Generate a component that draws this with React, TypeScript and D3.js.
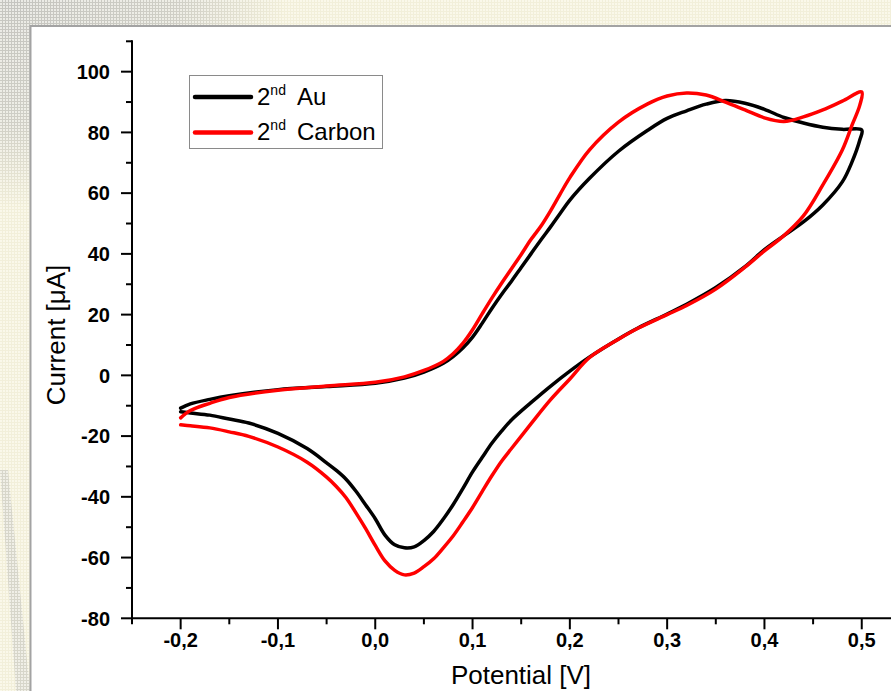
import React, { useEffect, useRef } from "react";
import * as d3 from "d3";

// Cyclic voltammograms: forward scan (-0.2 → 0.5 V) then reverse scan (0.5 → -0.2 V)
const forwardPotential = [
  -0.2, -0.19, -0.17, -0.15, -0.1, -0.05, 0, 0.03, 0.05, 0.07, 0.08, 0.09, 0.1, 0.11, 0.12,
  0.13, 0.14, 0.15, 0.16, 0.17, 0.18, 0.19, 0.2, 0.22, 0.25, 0.28, 0.3, 0.32, 0.34, 0.36,
  0.38, 0.4, 0.42, 0.44, 0.46, 0.48, 0.5,
];
const reversePotential = [
  0.498, 0.49, 0.48, 0.46, 0.44, 0.42, 0.4, 0.38, 0.35, 0.32, 0.3, 0.27, 0.25, 0.22, 0.2,
  0.18, 0.16, 0.14, 0.13, 0.12, 0.11, 0.1, 0.09, 0.08, 0.07, 0.06, 0.05, 0.04, 0.03, 0.02,
  0.01, 0, -0.01, -0.02, -0.03, -0.04, -0.05, -0.07, -0.1, -0.13, -0.15, -0.17, -0.19, -0.2,
];

const auForward = [
  -10.8, -9.4, -7.9, -6.7, -4.7, -3.7, -2.6, -0.9, 1.1, 4.0, 6.2, 9.0, 12.6, 17.2, 22.1,
  26.7, 31.0, 35.5, 40.0, 44.5, 48.8, 53.3, 57.7, 64.8, 73.8, 80.7, 84.6, 87.1, 89.3, 90.5,
  89.6, 87.6, 84.9, 83.1, 81.7, 81.0, 80.8,
];
const auReverse = [
  77.5, 70.3, 63.7, 56.1, 50.5, 46.0, 41.4, 35.8, 28.9, 23.4, 20.2, 15.6, 12.0, 6.0, 1.4,
  -3.6, -9.0, -14.7, -18.3, -22.3, -27.0, -31.8, -37.3, -42.6, -47.3, -51.4, -54.4, -56.5, -56.8, -55.8,
  -52.6, -47.2, -42.6, -38.1, -34.2, -31.3, -28.8, -24.1, -19.1, -15.7, -14.4, -13.1, -12.4, -12.0,
];

const carbonForward = [
  -14.0, -11.6, -9.2, -7.3, -4.9, -3.5, -2.3, -0.5, 1.6, 4.6, 7.1, 10.5, 15.0, 20.3, 25.5,
  30.4, 35.1, 39.8, 44.7, 49.0, 54.1, 59.7, 65.1, 74.2, 83.4, 89.4, 92.0, 93.0, 92.3, 90.0,
  87.4, 84.8, 83.6, 85.1, 87.4, 90.3, 93.3,
];
const carbonReverse = [
  89.0, 82.4, 74.2, 62.7, 52.5, 46.0, 41.0, 35.6, 28.4, 23.0, 20.0, 15.5, 11.9, 5.8, -1.2,
  -8.1, -16.0, -24.1, -28.2, -33.0, -38.2, -43.5, -48.3, -52.9, -56.8, -60.4, -63.0, -65.1, -65.7, -64.2,
  -61.1, -56.0, -50.4, -45.2, -40.3, -36.6, -33.5, -28.6, -23.6, -20.1, -18.6, -17.3, -16.6, -16.3,
];

const seriesNames = ["Au", "Carbon"];
const seriesColors = ["#000000", "#ff0000"];

const xTicks = [-0.2, -0.1, 0, 0.1, 0.2, 0.3, 0.4, 0.5];
const xMinorTicks = [-0.25, -0.15, -0.05, 0.05, 0.15, 0.25, 0.35, 0.45];
const yTicks = [-80, -60, -40, -20, 0, 20, 40, 60, 80, 100];
const yMinorTicks = [-70, -50, -30, -10, 10, 30, 50, 70, 90, 110];

const W = 891;
const H = 691;

export default function App() {
  const ref = useRef<SVGSVGElement | null>(null);

  useEffect(() => {
    const svg = d3.select(ref.current);
    svg.selectAll("*").remove();

    const x = d3.scaleLinear().domain([-0.25, 0.55]).range([132, 910.4]);
    const y = d3.scaleLinear().domain([-80, 110]).range([618.3, 41.3]);

    const locale = d3.formatLocale({ decimal: ",", thousands: ".", grouping: [3], currency: ["", ""], minus: "-" });
    const fmtX = locale.format(".1f");

    const defs = svg.append("defs");

    // textured slide backdrop
    const pat = defs
      .append("pattern")
      .attr("id", "dots")
      .attr("width", 3)
      .attr("height", 3)
      .attr("patternUnits", "userSpaceOnUse");
    pat.append("rect").attr("width", 3).attr("height", 3).attr("fill", "#f2efda");
    pat.append("rect").attr("width", 2).attr("height", 2).attr("fill", "#faf8ea");

    const grayPat = defs
      .append("pattern")
      .attr("id", "grayDots")
      .attr("width", 3)
      .attr("height", 3)
      .attr("patternUnits", "userSpaceOnUse");
    grayPat.append("rect").attr("width", 3).attr("height", 3).attr("fill", "#c4c4bf");
    grayPat.append("rect").attr("width", 2).attr("height", 2).attr("fill", "#eaeae5");

    const grad = defs
      .append("radialGradient")
      .attr("id", "fadeTL")
      .attr("cx", 0.02)
      .attr("cy", 0.0)
      .attr("r", 0.3);
    grad.append("stop").attr("offset", "0%").attr("stop-color", "#fff").attr("stop-opacity", 1);
    grad.append("stop").attr("offset", "60%").attr("stop-color", "#fff").attr("stop-opacity", 0.75);
    grad.append("stop").attr("offset", "100%").attr("stop-color", "#fff").attr("stop-opacity", 0);

    const mask = defs.append("mask").attr("id", "grayMask");
    mask.append("rect").attr("width", W).attr("height", H).attr("fill", "url(#fadeTL)");
    mask
      .append("path")
      .attr("d", "M0,470 L8,470 L30,691 L16,691 Z")
      .attr("fill", "#fff")
      .attr("opacity", 0.6);

    svg.append("rect").attr("width", W).attr("height", H).attr("fill", "url(#dots)");
    svg
      .append("rect")
      .attr("width", W)
      .attr("height", H)
      .attr("fill", "url(#grayDots)")
      .attr("mask", "url(#grayMask)");

    // white chart panel
    svg
      .append("rect")
      .attr("x", 30.5)
      .attr("y", 26)
      .attr("width", W)
      .attr("height", H)
      .attr("fill", "#ffffff")
      .attr("stroke", "#a3a3a3")
      .attr("stroke-width", 2);

    // legend
    const lg = svg.append("g");
    lg.append("rect")
      .attr("x", 189.5)
      .attr("y", 75.5)
      .attr("width", 193)
      .attr("height", 73)
      .attr("fill", "#fff")
      .attr("stroke", "#8a8a8a")
      .attr("stroke-width", 1);
    seriesNames.forEach((name, i) => {
      const ly = 97 + i * 35.5;
      lg.append("line")
        .attr("x1", 195)
        .attr("x2", 251)
        .attr("y1", ly)
        .attr("y2", ly)
        .attr("stroke", seriesColors[i])
        .attr("stroke-width", 4.5)
        .attr("stroke-linecap", "round");
      const t = lg
        .append("text")
        .attr("x", 257)
        .attr("y", ly + 7.5)
        .attr("font-family", "'Liberation Sans', Arial, sans-serif")
        .attr("font-size", 24)
        .attr("fill", "#000");
      t.append("tspan").text("2");
      t.append("tspan").attr("font-size", 14).attr("dy", -10).text("nd");
      t.append("tspan").attr("x", 297).attr("dy", 10).text(name);
    });

    // axes
    const ax = svg.append("g").attr("stroke", "#000").attr("stroke-width", 2);
    ax.append("line").attr("x1", 131.5).attr("x2", W).attr("y1", y(-80)).attr("y2", y(-80));
    ax.append("line").attr("x1", x(-0.25)).attr("x2", x(-0.25)).attr("y1", y(110) - 1).attr("y2", y(-80));

    const tickFont = "'Liberation Sans', Arial, sans-serif";

    yTicks.forEach((v) => {
      ax.append("line").attr("x1", x(-0.25) - 11).attr("x2", x(-0.25)).attr("y1", y(v)).attr("y2", y(v));
      svg
        .append("text")
        .attr("x", 110)
        .attr("y", y(v))
        .attr("dy", "0.36em")
        .attr("text-anchor", "end")
        .attr("font-family", tickFont)
        .attr("font-weight", "bold")
        .attr("font-size", 20)
        .text(String(v));
    });
    yMinorTicks.forEach((v) => {
      ax.append("line").attr("x1", x(-0.25) - 6).attr("x2", x(-0.25)).attr("y1", y(v)).attr("y2", y(v));
    });
    xTicks.forEach((v) => {
      ax.append("line").attr("x1", x(v)).attr("x2", x(v)).attr("y1", y(-80)).attr("y2", y(-80) + 11);
      svg
        .append("text")
        .attr("x", x(v))
        .attr("y", 647)
        .attr("text-anchor", "middle")
        .attr("font-family", tickFont)
        .attr("font-weight", "bold")
        .attr("font-size", 20)
        .text(fmtX(v));
    });
    xMinorTicks.forEach((v) => {
      ax.append("line").attr("x1", x(v)).attr("x2", x(v)).attr("y1", y(-80)).attr("y2", y(-80) + 6);
    });

    svg
      .append("text")
      .attr("transform", `translate(65,335) rotate(-90)`)
      .attr("text-anchor", "middle")
      .attr("font-family", tickFont)
      .attr("font-size", 26)
      .text("Current [μA]");
    svg
      .append("text")
      .attr("x", 521)
      .attr("y", 684)
      .attr("text-anchor", "middle")
      .attr("font-family", tickFont)
      .attr("font-size", 26)
      .text("Potential [V]");

    // voltammogram traces
    const line = d3
      .line<[number, number]>()
      .x((d) => x(d[0]))
      .y((d) => y(d[1]))
      .curve(d3.curveCatmullRom.alpha(0.5));

    const build = (fwd: number[], rev: number[]): [number, number][] => [
      ...forwardPotential.map((e, i) => [e, fwd[i]] as [number, number]),
      ...reversePotential.map((e, i) => [e, rev[i]] as [number, number]),
    ];

    const traces = [build(auForward, auReverse), build(carbonForward, carbonReverse)];
    traces.forEach((pts, i) => {
      svg
        .append("path")
        .attr("d", line(pts))
        .attr("fill", "none")
        .attr("stroke", seriesColors[i])
        .attr("stroke-width", 3.5)
        .attr("stroke-linejoin", "round")
        .attr("stroke-linecap", "round");
    });
  }, []);

  return (
    <div style={{ position: "absolute", left: 0, top: 0, width: W, height: H, overflow: "hidden" }}>
      <svg ref={ref} width={W} height={H} style={{ display: "block" }} />
    </div>
  );
}
